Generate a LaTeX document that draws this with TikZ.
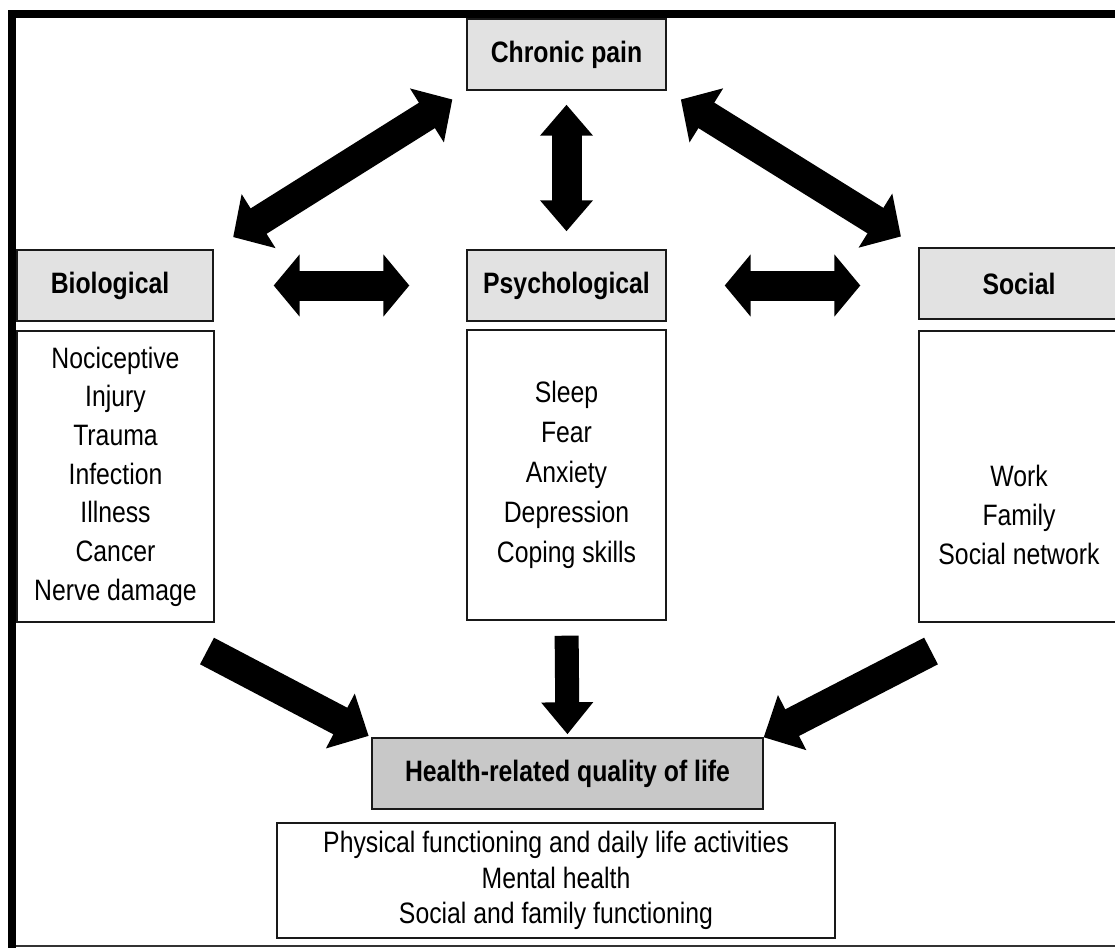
\documentclass[tikz,border=0pt]{standalone}
\usepackage{fontspec}
\setmainfont[FakeStretch=0.84]{Liberation Sans}
\usetikzlibrary{arrows.meta}
\definecolor{hdrgray}{HTML}{E2E2E2}
\definecolor{qolgray}{HTML}{C8C8C8}
\definecolor{framegray}{HTML}{333333}
\begin{document}
\begin{tikzpicture}[x=1pt,y=-1pt,
  box/.style={draw=black!90, line width=1.4pt, inner sep=0pt, align=center},
  hdr/.style={box, fill=hdrgray, font=\fontsize{29.5}{34}\selectfont\bfseries},
  qol/.style={box, fill=qolgray, font=\fontsize{29.5}{34}\selectfont\bfseries},
  list/.style={box, font=\fontsize{29.5}{38.7}\selectfont},
  dbl/.style={line width=30pt, black, >={Triangle[width=62pt,length=30pt]}, <->},
  sgl/.style={line width=30pt, black, >={Triangle[width=60pt,length=32pt]}, ->}]
\useasboundingbox (0,0) rectangle (1115,947);
% frame
\fill[black] (8,10) rectangle (1120,18);
\fill[black] (8,10) rectangle (16,950);
\draw[framegray, line width=2pt] (16,946) -- (1120,946);
% boxes
\node[hdr, minimum width=199pt, minimum height=71pt] (cp) at (566.5,54.5) {Chronic pain};
\node[hdr, minimum width=196pt, minimum height=71pt] (bioh) at (115,285.5) {\hspace*{-10pt}Biological};
\node[list, minimum width=197pt, minimum height=291pt] (bioc) at (115.5,476.5)
  {Nociceptive\\Injury\\Trauma\\Infection\\Illness\\Cancer\\Nerve damage};
\node[hdr, minimum width=199pt, minimum height=71pt] (psyh) at (566.5,285.5) {Psychological};
\node[box, font=\fontsize{29.5}{40}\selectfont, minimum width=199pt, minimum height=290pt] (psyc) at (566.5,475)
  {Sleep\\Fear\\Anxiety\\Depression\\Coping skills};
\node[hdr, minimum width=206pt, minimum height=71pt] (soch) at (1022,283.5) {\hspace*{-6pt}Social};
\node[box, minimum width=206pt, minimum height=291pt] (socc) at (1022,476.5) {};
\node[align=center, inner sep=0pt, font=\fontsize{29.5}{39}\selectfont] (soct) at (1019,515)
  {Work\\Family\\Social network};
\node[qol, minimum width=391pt, minimum height=71pt] (hq) at (567.5,773.5) {Health-related quality of life};
\node[box, font=\fontsize{29.5}{35.5}\selectfont, minimum width=558pt, minimum height=115pt] (out) at (556,880.5)
  {Physical functioning and daily life activities\\Mental health\\Social and family functioning};
% arrows between chronic pain and the three factors
\draw[dbl, shorten <=16.5pt, shorten >=23pt] (cp.south west) -- (bioh.north east);
\draw[dbl, >={Triangle[width=51pt,length=31pt]}, shorten <=14pt, shorten >=18pt] (cp.south) -- (psyh.north);
\draw[dbl, shorten <=16.7pt, shorten >=20.5pt] (cp.south east) -- (soch.north west);
% horizontal arrows
\draw[dbl, >={Triangle[width=61pt,length=26pt]}, shorten <=60pt, shorten >=57pt] (bioh.east) -- (psyh.west);
\draw[dbl, >={Triangle[width=61pt,length=26pt]}, shorten <=58pt, shorten >=58pt] (psyh.east) -- (psyh.east -| soch.west);
% arrows into quality of life
\coordinate (blt) at (207,651);
\coordinate (brt) at (931,651);
\draw[sgl, shorten >=3pt] (blt) -- (hq.north west);
\draw[sgl, line width=24pt, >={Triangle[width=50pt,length=32pt]}, shorten <=15pt, shorten >=3pt] (psyc.south) -- (hq.north);
\draw[sgl] (brt) -- (hq.north east);
\end{tikzpicture}
\end{document}
